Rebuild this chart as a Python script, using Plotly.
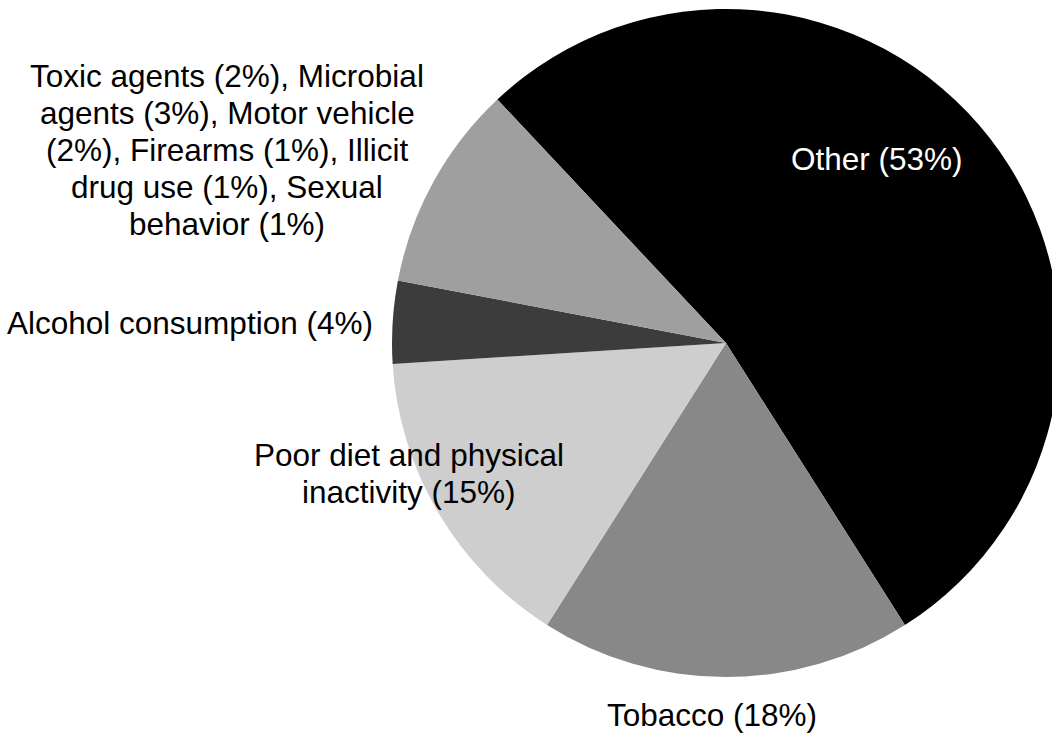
import plotly.graph_objects as go

# Share of deaths by actual cause (percent)
labels = ["Other", "Tobacco", "Poor diet and physical inactivity",
          "Alcohol consumption", "Toxic agents and other causes"]
toxic_parts = ["Toxic agents", "Microbial agents", "Motor vehicle",
               "Firearms", "Illicit drug use", "Sexual behavior"]
toxic_values = [2, 3, 2, 1, 1, 1]
values = [53, 18, 15, 4, sum(toxic_values)]
colors = ["#000000", "#878887", "#cdcecd", "#3b3c3b", "#9e9f9e"]

W, H = 1070, 734
CX, CY, R = 726, 343, 334
FONT = "Liberation Sans, Arial, sans-serif"
SIZE = 31.5
LINE = 37  # px between wrapped lines

fig = go.Figure(go.Pie(
    labels=labels,
    values=values,
    sort=False,
    direction="clockwise",
    rotation=-43.2,
    marker=dict(colors=colors, line=dict(width=0)),
    textinfo="none",
    hoverinfo="label+percent",
    showlegend=False,
    domain=dict(x=[(CX - R) / W, (CX + R) / W],
                y=[1 - (CY + R) / H, 1 - (CY - R) / H]),
))

toxic_lines = [
    f"Toxic agents ({toxic_values[0]}%), Microbial",
    f"agents ({toxic_values[1]}%), Motor vehicle",
    f"({toxic_values[2]}%), Firearms ({toxic_values[3]}%), Illicit",
    f"drug use ({toxic_values[4]}%), Sexual",
    f"behavior ({toxic_values[5]}%)",
]

# (lines, x px, y px of first line, xanchor, colour)
notes = [
    ([f"{labels[0]} ({values[0]}%)"], 877, 159, "center", "white"),
    ([f"{labels[1]} ({values[1]}%)"], 712, 715, "center", "black"),
    (["Poor diet and physical", f"inactivity ({values[2]}%)"], 409, 455, "center", "black"),
    ([f"{labels[3]} ({values[3]}%)"], 374, 323, "right", "black"),
    (toxic_lines, 227, 76, "center", "black"),
]
for lines, px, py, xa, col in notes:
    for i, line in enumerate(lines):
        fig.add_annotation(
            text=line, x=px / W, y=1 - (py + i * LINE) / H,
            xref="paper", yref="paper",
            xanchor=xa, yanchor="middle", showarrow=False,
            borderpad=0,
            font=dict(family=FONT, size=SIZE, color=col),
        )

fig.update_layout(
    width=W, height=H, autosize=False,
    margin=dict(l=0, r=0, t=0, b=0),
    paper_bgcolor="white", plot_bgcolor="white",
)

fig.write_html(
    "out.html",
    config={"displayModeBar": False},
    post_script="document.documentElement.style.overflow='hidden';document.body.style.overflow='hidden';",
)
